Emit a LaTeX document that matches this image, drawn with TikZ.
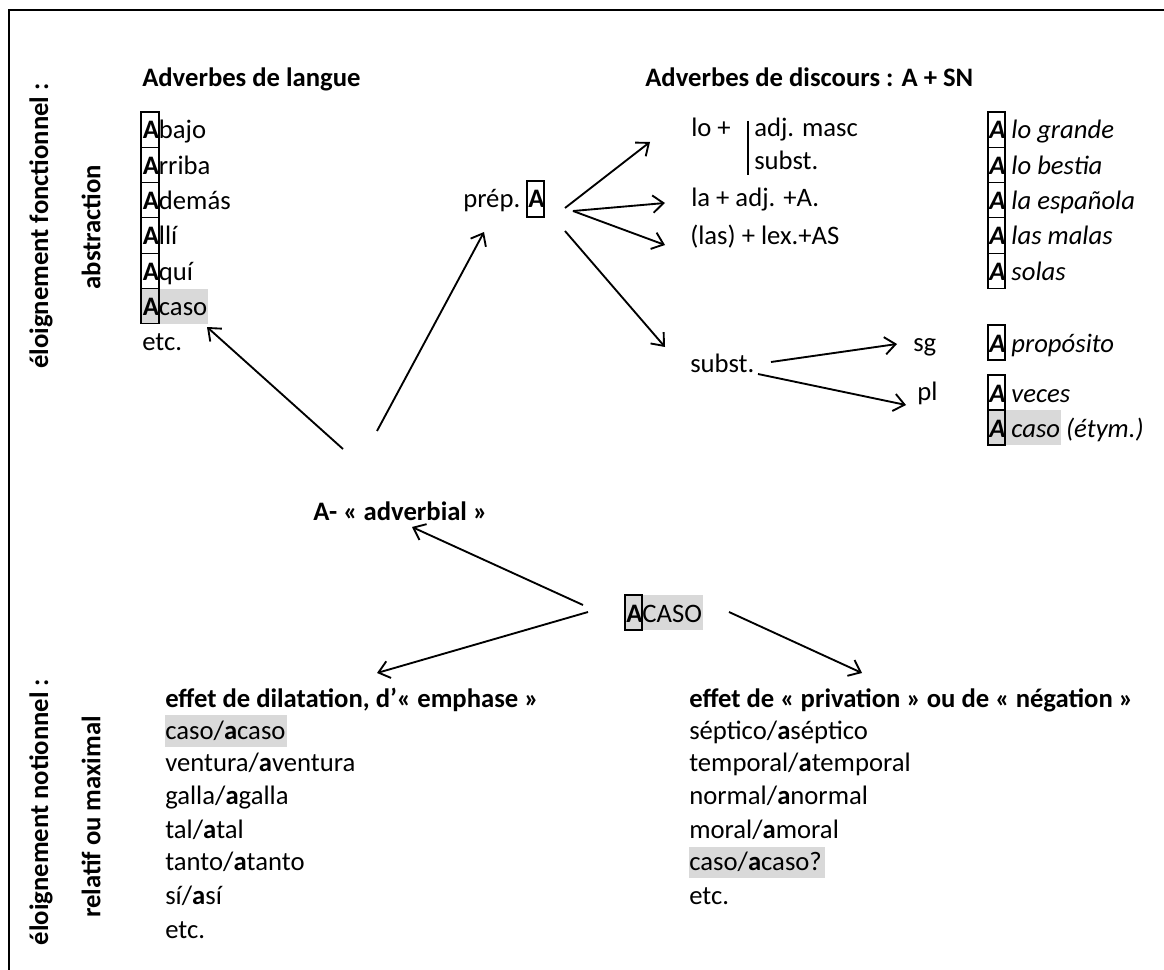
\documentclass[tikz,border=0pt]{standalone}
\usepackage{fontspec}
\setmainfont{Carlito}
\usetikzlibrary{arrows.meta}
\definecolor{hlgray}{HTML}{D9D9D9}
\begin{document}
\begin{tikzpicture}[x=0.75pt,y=-0.75pt,
  txt/.style={anchor=base west,inner sep=0pt,font=\fontsize{20}{24}\selectfont},
  btxt/.style={txt,font=\fontsize{20}{24}\selectfont\bfseries},
  vtxt/.style={inner sep=0pt,font=\fontsize{20}{24}\selectfont\bfseries,rotate=90},
  abox/.style={draw,line width=0.9pt},
  arr/.style={line width=1.4pt,-{Straight Barb[length=8pt,width=13pt,line width=1.4pt]}},
  frame/.style={line width=1.1pt}
]
\useasboundingbox (0,0) rectangle (1164,970);
\draw[frame] (9,975) -- (9,10) -- (1170,10);

% vertical labels
\node[vtxt] (vf) at (41,226) {éloignement fonctionnel :};
\node[vtxt] (va) at (91,227) {abstraction};
\node[vtxt] (vn) at (41,812) {éloignement notionnel :};
\node[vtxt] (vr) at (91,817) {relatif ou maximal};

% top left block
\node[btxt] (t1) at (142,87) {Adverbes de langue};
\fill[hlgray] (141,288.5) rectangle (208,323.8);
\foreach \i in {0,...,5} {\draw[abox] (141,{112+35.3*\i}) rectangle (159,{147.3+35.3*\i});}
\node[txt] (l1) at (142.5,139) {\textbf{A}bajo};
\node[txt] (l2) at (142.5,174.3) {\textbf{A}rriba};
\node[txt] (l3) at (142.5,209.6) {\textbf{A}demás};
\node[txt] (l4) at (142.5,244.9) {\textbf{A}llí};
\node[txt] (l5) at (142.5,280.2) {\textbf{A}quí};
\node[txt] (l6) at (142.5,315.5) {\textbf{A}caso};
\node[txt] (l7) at (142,350.8) {etc.};

% prep A
\node[txt] (prep) at (463,208) {prép. \textbf{A}};
\draw[abox] (527,181) rectangle (544,217);

% top right block
\node[btxt] (t2) at (645,87) {Adverbes de discours : A + SN};
\node[txt] (lo) at (691,137) {lo +};
\draw[line width=1.2pt] (748,121) -- (748,175);
\node[txt] (adj) at (754,137) {adj. masc};
\node[txt] (sub1) at (754,170) {subst.};
\node[txt] (la) at (691,207) {la + adj. +A.};
\node[txt] (las) at (690,244) {(las) + lex.+AS};
\node[txt] (sub2) at (690,372) {subst.};
\node[txt] (sg) at (913,351) {sg};
\node[txt] (pl) at (917,400) {pl};

% right column
\fill[hlgray] (988,410) rectangle (1061,445);
\foreach \i in {0,...,4} {\draw[abox] (988,{112+35.3*\i}) rectangle (1005,{147.3+35.3*\i});}
\draw[abox] (988,325) rectangle (1005,360);
\draw[abox] (988,375) rectangle (1005,410);
\draw[abox] (988,410) rectangle (1005,445);
\node[txt] (r1) at (989,139) {\textbf{\textit{A}} \textit{lo grande}};
\node[txt] (r2) at (989,174.3) {\textbf{\textit{A}} \textit{lo bestia}};
\node[txt] (r3) at (989,209.6) {\textbf{\textit{A}} \textit{la española}};
\node[txt] (r4) at (989,244.9) {\textbf{\textit{A}} \textit{las malas}};
\node[txt] (r5) at (989,280.2) {\textbf{\textit{A}} \textit{solas}};
\node[txt] (r6) at (989,352) {\textbf{\textit{A}} \textit{propósito}};
\node[txt] (r7) at (989,402) {\textbf{\textit{A}} \textit{veces}};
\node[txt] (r8) at (989,437) {\textbf{\textit{A}} \textit{caso (étym.)}};

% middle
\node[btxt] (adv) at (313,520) {A- « adverbial »};
\fill[hlgray] (625,595) rectangle (703,630);
\draw[abox] (625,595) rectangle (642,630);
\node[txt] (acaso) at (626,622) {\textbf{A}CASO};

% bottom left
\node[btxt] (h1) at (165,707) {effet de dilatation, d’« emphase »};
\fill[hlgray] (165,715) rectangle (287,747);
\node[txt] (b1) at (165,739) {caso/\textbf{a}caso};
\node[txt] (b2) at (165,771.5) {ventura/\textbf{a}ventura};
\node[txt] (b3) at (165,804.5) {galla/\textbf{a}galla};
\node[txt] (b4) at (165,838) {tal/\textbf{a}tal};
\node[txt] (b5) at (165,870.5) {tanto/\textbf{a}tanto};
\node[txt] (b6) at (165,904.5) {sí/\textbf{a}sí};
\node[txt] (b7) at (165,938.5) {etc.};

% bottom right
\node[btxt] (h2) at (689,707) {effet de « privation » ou de « négation »};
\fill[hlgray] (689,847) rectangle (825,878);
\node[txt] (c1) at (689,739) {séptico/\textbf{a}séptico};
\node[txt] (c2) at (689,771.5) {temporal/\textbf{a}temporal};
\node[txt] (c3) at (689,804.5) {normal/\textbf{a}normal};
\node[txt] (c4) at (689,838) {moral/\textbf{a}moral};
\node[txt] (c5) at (689,870.5) {caso/\textbf{a}caso?};
\node[txt] (c6) at (689,904.5) {etc.};

% arrow coordinates
\coordinate (p0) at (343,449);
\coordinate (p0t) at (207,327);
\coordinate (q0) at (377,431);
\coordinate (q0t) at (484,232);
\coordinate (s1) at (565,208);  \coordinate (s1t) at (650,142);
\coordinate (s2) at (573,211);  \coordinate (s2t) at (665,203);
\coordinate (s3t) at (665,245);
\coordinate (s4) at (565,231);  \coordinate (s4t) at (665,347);
\coordinate (u1) at (771,362);  \coordinate (u1t) at (897,344);
\coordinate (u2) at (758,374);  \coordinate (u2t) at (906,405);
\coordinate (m1) at (583,605);  \coordinate (m1t) at (412,527);
\coordinate (m2) at (588,612);  \coordinate (m2t) at (377,673);
\coordinate (m3) at (729,612);  \coordinate (m3t) at (862,673);

\draw[arr] (p0) -- (p0t);
\draw[arr] (q0) -- (q0t);
\draw[arr] (s1) -- (s1t);
\draw[arr] (s2) -- (s2t);
\draw[arr] (s2) -- (s3t);
\draw[arr] (s4) -- (s4t);
\draw[arr] (u1) -- (u1t);
\draw[arr] (u2) -- (u2t);
\draw[arr] (m1) -- (m1t);
\draw[arr] (m2) -- (m2t);
\draw[arr] (m3) -- (m3t);
\end{tikzpicture}
\end{document}
